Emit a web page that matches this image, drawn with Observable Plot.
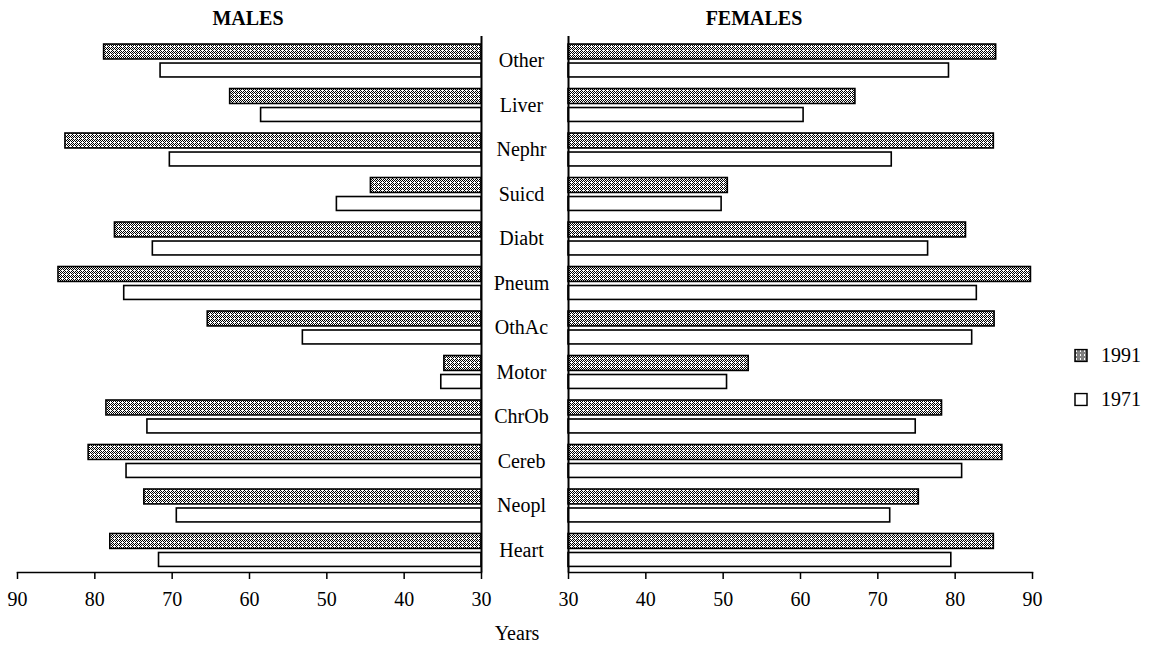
<!DOCTYPE html>
<html>
<head>
<meta charset="utf-8">
<script src="https://cdn.jsdelivr.net/npm/d3@7"></script>
<script src="https://cdn.jsdelivr.net/npm/@observablehq/plot@0.6"></script>
<style>
  body { margin: 0; background: #fff; }
  #wrap { position: relative; width: 1154px; height: 646px; font-family: "Liberation Serif", "DejaVu Serif", serif; color: #000; }
  .abs { position: absolute; }
  .title { font-weight: bold; font-size: 20px; transform: translate(-50%, -50%); white-space: nowrap; }
  .lbl { font-size: 20px; transform: translate(-50%, -50%); white-space: nowrap; }
  .leg { font-size: 20px; display: flex; align-items: center; gap: 13px; transform: translateY(-50%); }
</style>
</head>
<body>
<svg width="0" height="0" style="position:absolute">
  <defs>
    <pattern id="dots" width="4" height="4" patternUnits="userSpaceOnUse" shape-rendering="crispEdges">
      <rect width="4" height="4" fill="#fff"/>
      <rect x="0" y="0" width="1" height="1" fill="#000"/>
      <rect x="2" y="0" width="1" height="1" fill="#000"/>
      <rect x="1" y="1" width="1" height="1" fill="#000"/>
      <rect x="3" y="1" width="1" height="1" fill="#000"/>
      <rect x="0" y="2" width="1" height="1" fill="#000"/>
      <rect x="1" y="3" width="1" height="1" fill="#000"/>
      <rect x="3" y="3" width="1" height="1" fill="#000"/>
    </pattern>
  </defs>
</svg>
<div id="wrap"></div>
<script>
const categories = ["Other","Liver","Nephr","Suicd","Diabt","Pneum","OthAc","Motor","ChrOb","Cereb","Neopl","Heart"];
const males1991   = [78.8, 62.5, 83.8, 44.3, 77.4, 84.7, 65.4, 34.8, 78.5, 80.8, 73.6, 78.0];
const males1971   = [71.5, 58.5, 70.3, 48.7, 72.5, 76.2, 53.1, 35.2, 73.2, 75.9, 69.4, 71.7];
const females1991 = [85.3, 67.1, 85.0, 50.6, 81.4, 89.8, 85.1, 53.3, 78.3, 86.1, 75.3, 85.0];
const females1971 = [79.2, 60.4, 71.8, 49.8, 76.5, 82.8, 82.2, 50.5, 74.9, 80.9, 71.6, 79.5];
const yearTicks = [30, 40, 50, 60, 70, 80, 90];
const baseAge = 30;
const legendYears = ["1991", "1971"];

const males = categories.map((c, i) => ({cat: c, base: baseAge, y1991: males1991[i], y1971: males1971[i]}));
const females = categories.map((c, i) => ({cat: c, base: baseAge, y1991: females1991[i], y1971: females1971[i]}));

const H = 646;
const yScale = {domain: categories, paddingInner: 0.26, paddingOuter: 0.153, align: 0.59, round: false, label: null};
const font = {fontFamily: "Liberation Serif, DejaVu Serif, serif", fontSize: "20px", background: "transparent", overflow: "visible"};

function panel(data, opts) {
  return Plot.plot({
    width: opts.width,
    height: H,
    marginTop: 36,
    marginBottom: 74,
    marginLeft: opts.marginLeft,
    marginRight: opts.marginRight,
    style: font,
    x: {domain: [30, 90], reverse: opts.reverse, axis: null, label: null},
    y: {...yScale, axis: null},
    marks: [
      Plot.barX(data, {y: "cat", x1: "base", x2: "y1991", fill: "url(#dots)", stroke: "#000", strokeWidth: 1.6, insetBottom: 18}),
      Plot.barX(data, {y: "cat", x1: "base", x2: "y1971", fill: "#fff", stroke: "#000", strokeWidth: 1.6, insetTop: 19}),
      Plot.ruleX([baseAge], {stroke: "#000", strokeWidth: 2}),
      Plot.frame({anchor: "bottom", stroke: "#000", strokeWidth: 1.5}),
      Plot.axisX(yearTicks, {anchor: "bottom", tickSize: 7, tickPadding: 12, strokeWidth: 1.5, fontSize: 20, tickFormat: d => d, label: null}),
      ...(opts.labels ? [Plot.axisY({anchor: "left", tickSize: 0, tickPadding: 47, textAnchor: "middle", fontSize: 20, label: null})] : [])
    ]
  });
}

const wrap = document.getElementById("wrap");

const m = panel(males, {width: 500, marginLeft: 17, marginRight: 19, reverse: true, labels: false});
m.style.position = "absolute"; m.style.left = "0px"; m.style.top = "0px";
wrap.appendChild(m);

const f = panel(females, {width: 600, marginLeft: 87, marginRight: 49, reverse: false, labels: true});
f.style.position = "absolute"; f.style.left = "481px"; f.style.top = "0px";
wrap.appendChild(f);

function addDiv(cls, text, x, y) {
  const d = document.createElement("div");
  d.className = "abs " + cls;
  d.textContent = text;
  d.style.left = x + "px"; d.style.top = y + "px";
  wrap.appendChild(d);
  return d;
}
addDiv("title", "MALES", 248, 18);
addDiv("title", "FEMALES", 754, 18);
addDiv("lbl", "Years", 517, 633);

legendYears.forEach((yr, i) => {
  const d = document.createElement("div");
  d.className = "abs leg";
  d.style.left = "1074px";
  d.style.top = (355 + i * 44) + "px";
  const fill = yr === "1991" ? "url(#dots)" : "#fff";
  d.innerHTML = `<svg width="14" height="14"><rect x="1" y="1" width="12" height="12" fill="${fill}" stroke="#000" stroke-width="1.5"/></svg><span>${yr}</span>`;
  wrap.appendChild(d);
});
</script>
</body>
</html>
